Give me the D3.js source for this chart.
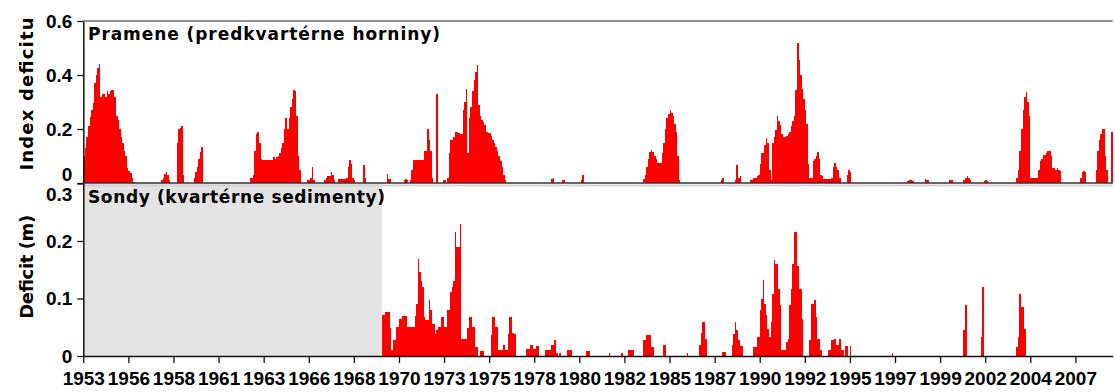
<!DOCTYPE html>
<html>
<head>
<meta charset="utf-8">
<script src="https://cdn.jsdelivr.net/npm/d3@7"></script>
<style>
  html, body { margin: 0; padding: 0; background: #fff; }
  svg { display: block; }
  .title { font-family: "DejaVu Sans", Verdana, sans-serif; font-weight: bold; fill: #000; }
  .tick text { font-family: "Liberation Sans Narrow", "Liberation Sans", Arial, sans-serif; font-weight: bold; fill: #000; }
</style>
</head>
<body>
<svg id="chart" width="1115" height="392"></svg>
<script>
// Monthly series, starting January 1953
const startYear = 1953;
const monthCount = 662;
const sondyStartYear = 1969;

const tickLabels = ["1953","1956","1958","1961","1963","1966","1968","1970","1973","1975","1978",
  "1980","1982","1985","1987","1990","1992","1995","1997","1999","2002","2004","2007"];
const tickStepMonths = 29;

const topTickValues = [0, 0.2, 0.4, 0.6];
const topTickLabels = ["0", "0.2", "0.4", "0.6"];
const bottomTickValues = [0, 0.1, 0.2, 0.3];
const bottomTickLabels = ["0", "0.1", "0.2", "0.3"];

// Pramene (predkvartérne horniny) – index deficitu, one row per year
const pramene1953_1962 = [
  0.10,0.13,0.17,0.21,0.245,0.27,0.295,0.37,0.40,0.425,0.44,0.32,
  0.33,0.33,0.32,0.34,0.33,0.34,0.345,0.345,0.32,0.25,0.235,0.20,
  0.17,0.15,0.12,0.10,0.055,0.045,0.036,0.02,0.005,0,0,0,
  0,0,0,0,0,0,0,0,0,0,0,0,
  0,0,0.01,0.02,0.035,0.042,0.03,0.01,0,0,0,0,
  0.15,0.20,0.205,0.21,0.03,0,0,0,0,0,0,0.02,
  0.04,0.06,0.09,0.115,0.135,0,0,0,0,0,0,0,
  0,0,0,0,0,0,0,0,0,0,0,0,
  0,0,0,0,0,0,0,0,0,0,0,0.02,
  0.02,0.03,0.12,0.18,0.19,0.15,0.09,0.085,0.085,0.085,0.085,0.085
];
const pramene1963_1972 = [
  0.085,0.085,0.095,0.09,0.095,0.10,0.11,0.13,0.15,0.20,0.24,0.20,
  0.24,0.28,0.31,0.344,0.34,0.25,0.10,0.05,0,0,0,0,
  0.01,0.01,0.02,0.06,0.01,0,0,0,0,0,0,0.01,
  0.02,0.025,0.025,0.04,0.03,0.01,0,0,0.015,0.015,0.015,0.015,
  0.015,0.02,0.06,0.085,0.07,0.02,0.01,0,0,0,0,0,
  0.065,0.02,0,0,0,0,0,0,0,0,0,0,
  0,0,0,0.035,0.015,0.015,0,0,0,0,0,0,
  0,0,0.01,0.015,0.01,0,0.01,0.05,0.085,0.085,0.085,0.085,
  0.085,0.085,0.085,0.12,0.12,0.2,0.16,0.12,0.02,0,0,0.33,
  0,0,0,0.01,0.01,0,0.02,0.11,0.16,0.16,0.17,0.19
];
const pramene1973_1982 = [
  0.19,0.185,0.18,0.18,0.27,0.30,0.347,0.11,0.24,0.28,0.34,0.38,
  0.41,0.437,0.29,0.25,0.235,0.225,0.215,0.19,0.185,0.185,0.175,0.16,
  0.15,0.135,0.12,0.10,0.08,0.06,0.03,0.01,0,0,0,0,
  0,0,0,0,0,0,0,0,0,0,0,0,
  0,0,0,0,0,0,0,0,0,0,0,0,
  0,0.015,0.02,0,0,0,0,0,0.012,0.012,0,0,
  0,0,0,0,0,0,0,0,0.01,0.03,0,0,
  0,0,0,0,0,0,0,0,0,0,0,0,
  0,0,0,0,0,0,0,0,0,0,0,0,
  0,0,0,0,0,0,0,0,0,0,0,0
];
const pramene1983_1992 = [
  0.015,0.03,0.06,0.09,0.115,0.122,0.115,0.10,0.09,0.075,0.075,0.075,
  0.11,0.15,0.2,0.24,0.255,0.27,0.26,0.25,0.22,0.19,0.10,0.01,
  0,0,0,0,0,0,0,0,0,0,0,0,
  0,0,0,0,0,0,0,0,0,0,0,0,
  0,0,0.01,0.02,0,0,0,0,0,0,0,0.01,
  0.065,0.02,0.025,0,0,0,0,0,0,0.01,0.01,0.02,
  0.02,0.025,0.03,0.07,0.11,0.11,0.14,0.165,0.15,0.05,0.01,0.15,
  0.17,0.196,0.248,0.23,0.215,0.18,0.17,0.17,0.175,0.18,0.19,0.21,
  0.23,0.25,0.344,0.517,0.456,0.40,0.35,0.31,0.27,0.22,0.07,0.02,
  0.02,0.08,0.09,0.10,0.116,0.09,0.03,0.025,0.015,0.015,0.015,0.015
];
const pramene1993_2002 = [
  0.015,0.02,0.06,0.073,0.06,0.05,0.02,0,0,0,0,0.03,
  0.05,0.04,0,0,0,0,0,0,0,0,0,0,
  0,0,0,0,0,0,0,0,0,0,0,0,
  0,0,0,0,0,0,0,0,0,0,0,0,
  0,0,0.008,0.01,0.01,0.008,0,0,0,0,0,0,
  0,0.015,0.012,0.01,0,0,0,0,0,0,0,0,
  0,0,0,0,0,0.01,0.012,0,0,0,0,0,
  0,0,0.01,0.02,0.025,0.02,0.01,0,0,0,0,0,
  0,0,0,0.008,0.01,0.008,0,0,0,0,0,0,
  0,0,0,0,0,0,0,0,0,0,0,0
];
const pramene2003_2008 = [
  0.02,0.05,0.12,0.2,0.27,0.32,0.338,0.30,0.25,0.02,0.02,0.02,
  0.02,0.02,0.05,0.08,0.09,0.105,0.105,0.11,0.12,0.12,0.10,0.055,
  0.055,0.05,0.055,0.05,0.045,0,0,0,0,0,0,0,
  0,0,0,0,0,0.02,0.04,0.045,0.04,0,0,0,
  0,0,0,0.05,0.12,0.16,0.18,0.2,0.2,0.1,0.05,0,
  0,0.19
];

// Sondy (kvartérne sedimenty) – deficit in metres, measured from 1969
const sondy1969_1978 = [
  0.071,0.071,0.077,0.077,0.077,0.048,0.01,0.027,0.027,0.05,0.05,0.065,
  0.065,0.069,0.069,0.069,0.05,0.05,0.05,0.05,0.05,0.07,0.09,0.168,
  0.146,0.13,0.12,0.068,0.062,0.062,0.097,0.08,0.056,0.056,0.039,0.045,
  0.05,0.05,0.068,0.068,0.05,0.05,0.08,0.08,0.111,0.12,0.13,0.216,
  0.19,0.19,0.23,0.03,0.03,0.03,0.03,0.048,0.067,0.067,0.05,0.05,
  0.016,0.016,0,0.009,0.009,0.009,0,0,0,0,0.036,0.067,
  0.067,0.05,0.05,0.01,0.01,0.01,0.019,0.01,0.01,0.039,0.067,0.067,
  0.04,0.039,0,0,0,0,0,0,0,0.013,0.013,0.019,
  0.019,0.013,0.013,0.017,0.017,0,0,0,0,0.01,0.01,0.01,
  0.01,0.02,0.02,0.027,0.005,0,0.005,0,0,0,0,0.01
];
const sondy1979_1988 = [
  0.01,0.01,0,0,0,0,0,0,0,0,0,0.009,
  0.009,0.009,0,0,0,0,0,0,0,0,0,0,
  0,0,0.005,0,0,0,0,0,0,0,0.005,0,
  0,0,0.01,0.01,0.01,0.01,0,0,0,0,0,0,
  0.027,0.027,0.036,0.036,0.036,0.016,0.016,0,0,0,0,0,
  0,0.019,0.019,0,0,0,0,0,0,0,0,0,
  0,0,0,0,0.005,0,0,0,0,0,0,0,
  0.02,0.04,0.06,0.06,0.03,0,0,0,0,0,0,0,
  0,0,0,0.007,0.007,0,0,0,0,0.02,0.039,0.06,
  0.045,0.027,0.018,0.018,0,0,0,0,0,0,0,0.016
];
const sondy1989_1998 = [
  0.016,0.033,0.033,0.08,0.1,0.132,0.09,0.071,0.047,0.033,0.06,0.108,
  0.167,0.16,0.16,0.117,0.088,0.01,0.01,0.01,0.024,0.03,0.088,0.117,
  0.16,0.216,0.216,0.157,0.117,0.117,0.065,0,0,0,0,0.027,
  0.091,0.091,0.097,0.068,0.03,0.03,0.01,0,0,0,0,0.01,
  0.01,0.027,0.027,0.03,0.02,0.02,0.03,0.01,0.01,0,0.018,0.018,
  0,0.018,0,0,0,0,0,0,0,0,0,0,
  0,0,0,0,0,0,0,0,0,0,0,0,
  0,0,0,0,0.006,0,0,0,0,0,0,0,
  0,0,0,0,0,0,0,0,0,0,0,0,
  0,0,0,0,0,0,0,0,0,0,0,0
];
const sondy1999_2008 = [
  0,0,0,0,0,0,0,0,0,0,0,0,
  0,0,0.045,0.089,0,0,0,0,0,0,0,0,
  0,0.033,0.12,0,0,0,0,0,0,0,0,0,
  0,0,0,0,0,0,0,0,0,0,0,0,
  0.016,0.033,0.108,0.086,0.086,0.047,0,0,0,0,0,0,
  0,0,0,0,0,0,0,0,0,0,0,0,
  0,0,0,0,0,0,0,0,0,0,0,0,
  0,0,0,0,0,0,0,0,0,0,0,0,
  0,0,0,0,0,0,0,0,0,0,0,0,
  0,0
];

const pramene = [].concat(pramene1953_1962, pramene1963_1972, pramene1973_1982,
  pramene1983_1992, pramene1993_2002, pramene2003_2008);
const sondy = [].concat(sondy1969_1978, sondy1979_1988, sondy1989_1998, sondy1999_2008);
const sondyOffset = (sondyStartYear - startYear) * 12;

const svg = d3.select("#chart");

const left = 83.3, right = 1112.7;
const x = d3.scaleLinear().domain([0, monthCount]).range([left, right]);
const yTop = d3.scaleLinear().domain([0, 0.6]).range([183, 21]);
const yBot = d3.scaleLinear().domain([0, 0.3]).range([356, 183.5]);

// period without borehole records
svg.append("rect")
  .attr("x", x(0)).attr("y", yBot(0.3))
  .attr("width", x(sondyOffset) - x(0))
  .attr("height", yBot(0) - yBot(0.3))
  .attr("fill", "#e3e3e3");

function drawBars(values, offset, y, cls) {
  const rows = values.map((v, k) => ({ m: k + offset, v })).filter(d => d.v > 0);
  svg.append("g").attr("class", cls)
    .attr("shape-rendering", "crispEdges")
    .selectAll("rect").data(rows).join("rect")
      .attr("x", d => x(d.m))
      .attr("width", d => x(d.m + 1) - x(d.m))
      .attr("y", d => y(d.v))
      .attr("height", d => y(0) - y(d.v))
      .attr("fill", "#ff0000");
}
drawBars(pramene, 0, yTop, "bars-top");
drawBars(sondy, sondyOffset, yBot, "bars-bottom");

// frame lines of the upper panel
svg.append("line")
  .attr("x1", x(0)).attr("x2", x(monthCount))
  .attr("y1", yTop(0.6)).attr("y2", yTop(0.6))
  .attr("stroke", "#222").attr("stroke-width", 1.2);
svg.append("line")
  .attr("x1", x(0)).attr("x2", x(monthCount))
  .attr("y1", yTop(0) + 2.5).attr("y2", yTop(0) + 2.5)
  .attr("stroke", "#d4d4d4").attr("stroke-width", 2);
svg.append("line")
  .attr("x1", x(0)).attr("x2", x(monthCount))
  .attr("y1", yTop(0)).attr("y2", yTop(0))
  .attr("stroke", "#333").attr("stroke-width", 1.5);

function styleAxis(g) {
  g.attr("font-size", 19).attr("font-family", null);
  g.selectAll("path.domain").attr("stroke", "#111").attr("stroke-width", 1.5);
  g.selectAll(".tick line").attr("stroke", "#111").attr("stroke-width", 1.3);
}

// left axes
const axTop = svg.append("g")
  .attr("transform", `translate(${left},0)`)
  .call(d3.axisLeft(yTop).tickValues(topTickValues)
    .tickFormat((d, k) => topTickLabels[k]).tickSize(6).tickSizeOuter(0).tickPadding(5))
  .call(styleAxis);
axTop.selectAll(".tick text").filter(d => d === 0).attr("dy", "-0.15em");

const axBot = svg.append("g")
  .attr("transform", `translate(${left},0)`)
  .call(d3.axisLeft(yBot).tickValues(bottomTickValues)
    .tickFormat((d, k) => bottomTickLabels[k]).tickSize(6).tickSizeOuter(0).tickPadding(5))
  .call(styleAxis);
axBot.selectAll(".tick text").filter(d => d === 0.3).attr("dy", "0.9em");

// time axis
const tickMonths = tickLabels.map((_, k) => k * tickStepMonths);
svg.append("g")
  .attr("transform", `translate(0,${yBot(0)})`)
  .call(d3.axisBottom(x).tickValues(tickMonths)
    .tickFormat((d, k) => tickLabels[k]).tickSize(7).tickSizeOuter(0).tickPadding(9))
  .call(styleAxis);

// panel titles
svg.append("text").attr("class", "title")
  .attr("x", 88).attr("y", 40).attr("font-size", 17)
  .attr("textLength", 352).attr("lengthAdjust", "spacing")
  .text("Pramene (predkvartérne horniny)");
svg.append("text").attr("class", "title")
  .attr("x", 88).attr("y", 203).attr("font-size", 17)
  .attr("textLength", 297).attr("lengthAdjust", "spacing")
  .text("Sondy (kvartérne sedimenty)");

// axis titles
svg.append("text").attr("class", "title")
  .attr("transform", `translate(33,${(yTop(0) + yTop(0.6)) / 2 - 8}) rotate(-90)`)
  .attr("text-anchor", "middle").attr("font-size", 18)
  .attr("textLength", 153).attr("lengthAdjust", "spacing")
  .text("Index deficitu");
svg.append("text").attr("class", "title")
  .attr("transform", `translate(33,${(yBot(0) + yBot(0.3)) / 2 - 3}) rotate(-90)`)
  .attr("text-anchor", "middle").attr("font-size", 18)
  .attr("textLength", 104).attr("lengthAdjust", "spacing")
  .text("Deficit (m)");
</script>
</body>
</html>
